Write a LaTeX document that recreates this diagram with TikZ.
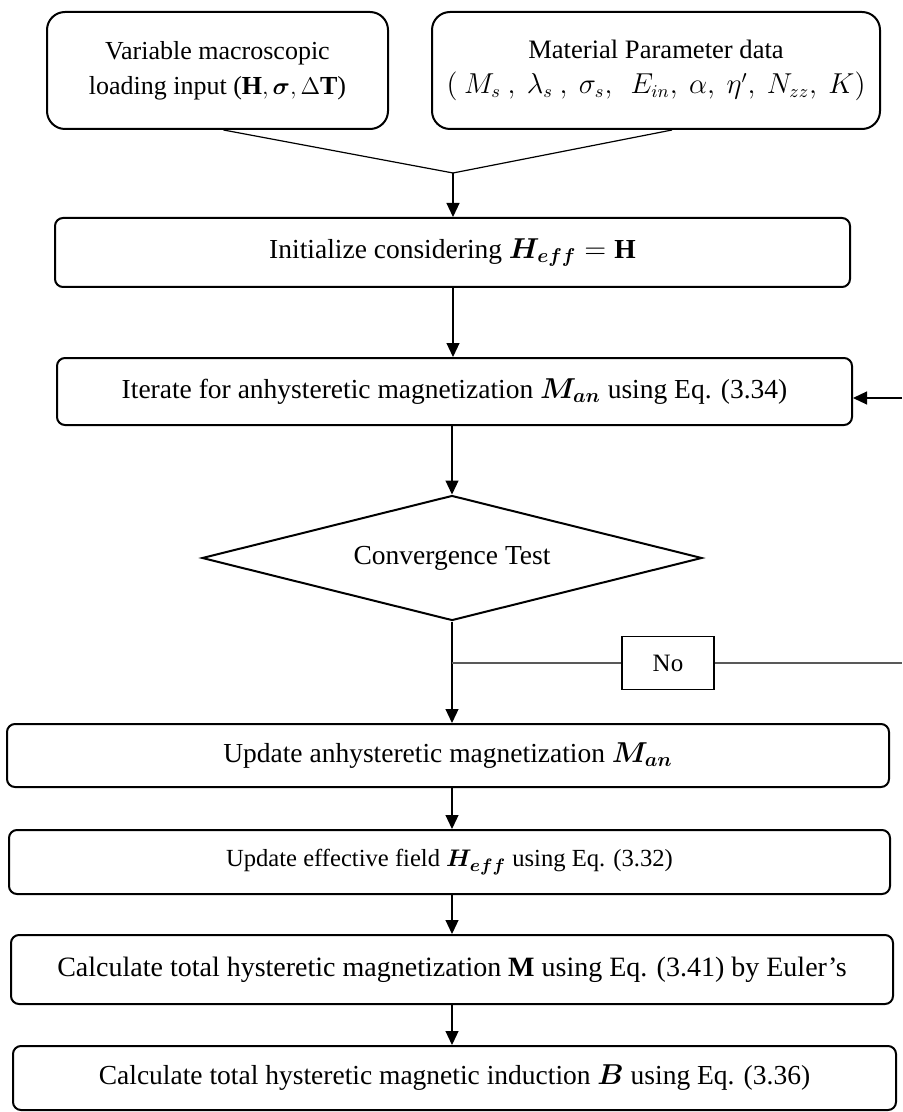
\documentclass[tikz,border=0pt]{standalone}
\usepackage{amsmath}
\usepackage{bm}
\usepackage{fontspec}
\setmainfont{Liberation Serif}
\usetikzlibrary{shapes.geometric,arrows.meta}
\tikzset{
	inbox/.style={draw, line width=1pt, rounded corners=9pt, align=center, inner sep=0pt, font=\fontsize{13}{17.5}\selectfont},
	stepbox/.style={draw, line width=1pt, rounded corners=4pt, align=center, inner sep=0pt},
	flow/.style={line width=0.6pt, -{Triangle[length=7pt,width=6.5pt]}},
	link/.style={line width=0.6pt},
	nolink/.style={line width=0.7pt, color=black!65},
}
\begin{document}
\begin{tikzpicture}[x=0.5pt, y=-0.5pt, every node/.style={font=\fontsize{13.75}{17.5}\selectfont}]
	\useasboundingbox (0,0) rectangle (902,1112);
	\node[inbox, minimum width=170.5pt, minimum height=58.5pt] (input) at (217.5,70.5) {Variable macroscopic\\loading input ($\mathbf{H},\boldsymbol{\sigma},\Delta\mathbf{T}$)};
	\node[inbox, minimum width=224pt, minimum height=58.5pt, font=\fontsize{13.3}{17.5}\selectfont] (param) at (656,70.5) {Material Parameter data\\$(\ M_s\ ,\ \lambda_s\ ,\ \sigma_s,\ \ E_{in},\ \alpha,\ \eta',\ N_{zz},\ K)$};
	\node[stepbox, minimum width=397.5pt, minimum height=34.5pt] (init) at (452.5,252.5) {Initialize considering $\bm{H_{eff}}=\mathbf{H}$};
	\node[stepbox, minimum width=397.5pt, minimum height=33.5pt] (iter) at (454.5,391.5) {Iterate for anhysteretic magnetization $\bm{M_{an}}$ using Eq. (3.34)};
	\node[draw, diamond, aspect=4, line width=1pt, minimum width=250pt, minimum height=62.5pt, inner sep=0pt] (test) at (452,558) {Convergence Test};
	\node[draw, line width=0.6pt, minimum width=46pt, minimum height=26.5pt, inner sep=0pt, font=\fontsize{12.5}{15}\selectfont] (no) at (668,663) {No};
	\node[stepbox, minimum width=441pt, minimum height=31.5pt] (upd) at (448,755.5) {Update anhysteretic magnetization $\bm{M_{an}}$};
	\node[stepbox, minimum width=440.5pt, minimum height=32pt, font=\fontsize{12.3}{15}\selectfont] (eff) at (449.5,862) {Update effective field $\bm{H_{eff}}$ using Eq. (3.32)};
	\node[stepbox, minimum width=441pt, minimum height=34.5pt, font=\fontsize{14}{16}\selectfont] (tot) at (452,969.5) {Calculate total hysteretic magnetization $\mathbf{M}$ using Eq. (3.41) by Euler’s};
	\node[stepbox, minimum width=441.5pt, minimum height=32pt] (ind) at (454.5,1078) {Calculate total hysteretic magnetic induction $\bm{B}$ using Eq. (3.36)};
	\coordinate (jn) at (453,173);
	\coordinate (split) at (452,663);
	\coordinate (back) at (902,663);
	\coordinate (ret) at (902,398);
	\draw[link] ([xshift=3pt]input.south) -- (jn);
	\draw[link] ([xshift=8pt]param.south) -- (jn);
	\draw[flow] (jn) -- (jn |- init.north);
	\draw[flow] (init.south -| jn) -- (iter.north -| jn);
	\draw[flow] (iter.south -| test.north) -- (test.north);
	\draw[flow] (test.south) -- (test.south |- upd.north);
	\draw[nolink] (split) -- (no.west);
	\draw[nolink] (no.east) -- (back);
	\draw[flow] (ret) -- (ret -| iter.east);
	\draw[flow] (upd.south -| test.south) -- (eff.north -| test.south);
	\draw[flow] (eff.south -| test.south) -- (tot.north -| test.south);
	\draw[flow] (tot.south -| test.south) -- (ind.north -| test.south);
\end{tikzpicture}
\end{document}
